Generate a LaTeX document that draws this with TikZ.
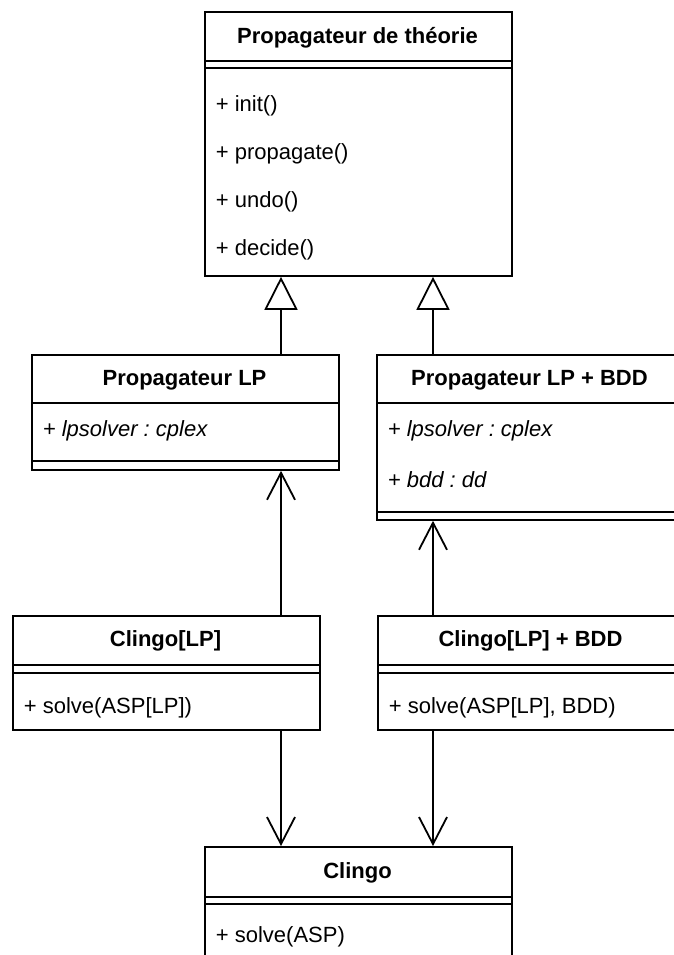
\documentclass[tikz,border=0pt]{standalone}
\usepackage{fontspec}
\setmainfont{Liberation Sans}
\usetikzlibrary{arrows.meta}
\frenchspacing
\begin{document}
\begin{tikzpicture}[x=1pt,y=-1pt,line width=1.8pt,
  box/.style={draw, rectangle, anchor=north west, inner sep=0pt, minimum width=307pt},
  clstitle/.style={inner sep=0pt, font=\fontsize{22}{26}\selectfont\bfseries},
  member/.style={anchor=west, inner sep=0pt, font=\fontsize{22}{26}\selectfont},
  attrib/.style={anchor=west, inner sep=0pt, font=\fontsize{22}{26}\selectfont\itshape},
  gen/.style={-{Triangle[open,length=33pt,width=33pt]}},
  dep/.style={-{Straight Barb[length=27pt,width=28pt]}}]
\useasboundingbox (0,0) rectangle (674,955);
\clip (0,0) rectangle (674,955);

% boxes
\node[box, minimum height=264pt] (top) at (204,11) {};
\node[box, minimum height=115pt] (lp) at (31,354) {};
\node[box, minimum height=165pt] (bdd) at (376,354) {};
\node[box, minimum height=114pt] (clp) at (12,615) {};
\node[box, minimum height=114pt] (clpb) at (377,615) {};
\node[box, minimum height=134pt] (clingo) at (204,846) {};

% separators
\foreach \b/\o in {top/50, top/57, lp/49, lp/107, bdd/49, bdd/158, clp/50, clp/58, clpb/50, clpb/58, clingo/51, clingo/58}
  \draw ([yshift=-\o pt]\b.north west) -- ([yshift=-\o pt]\b.north east);

% texts
\node[clstitle] (t1) at (357.5,38) {Propagateur de théorie};
\node[member] (m1) at (215,106) {+ init()};
\node[member] (m2) at (215,154) {+ propagate()};
\node[member] (m3) at (215,202) {+ undo()};
\node[member] (m4) at (215,250) {+ decide()};

\node[clstitle] (t2) at (184.5,380) {Propagateur LP};
\node[attrib] (a1) at (42,431) {+ lpsolver : cplex};

\node[clstitle] (t3) at (529.5,380) {Propagateur LP + BDD};
\node[attrib] (a2) at (387,431) {+ lpsolver : cplex};
\node[attrib] (a3) at (387,480) {+ bdd : dd};

\node[clstitle] (t4) at (165.5,641) {Clingo[LP]};
\node[member] (m5) at (23,708) {+ solve(ASP[LP])};

\node[clstitle] (t5) at (530.5,641) {Clingo[LP] + BDD};
\node[member] (m6) at (388,708) {+ solve(ASP[LP], BDD)};

\node[clstitle] (t6) at (357.5,873) {Clingo};
\node[member] (m7) at (215,937) {+ solve(ASP)};

% connectors
\coordinate (xa) at (281,0);
\coordinate (xb) at (433,0);
\draw[gen] (lp.north -| xa) -- (top.south -| xa);
\draw[gen] (bdd.north -| xb) -- (top.south -| xb);
\draw[dep] (clp.north -| xa) -- (lp.south -| xa);
\draw[dep] (clpb.north -| xb) -- (bdd.south -| xb);
\draw[dep] (clp.south -| xa) -- (clingo.north -| xa);
\draw[dep] (clpb.south -| xb) -- (clingo.north -| xb);
\end{tikzpicture}
\end{document}
